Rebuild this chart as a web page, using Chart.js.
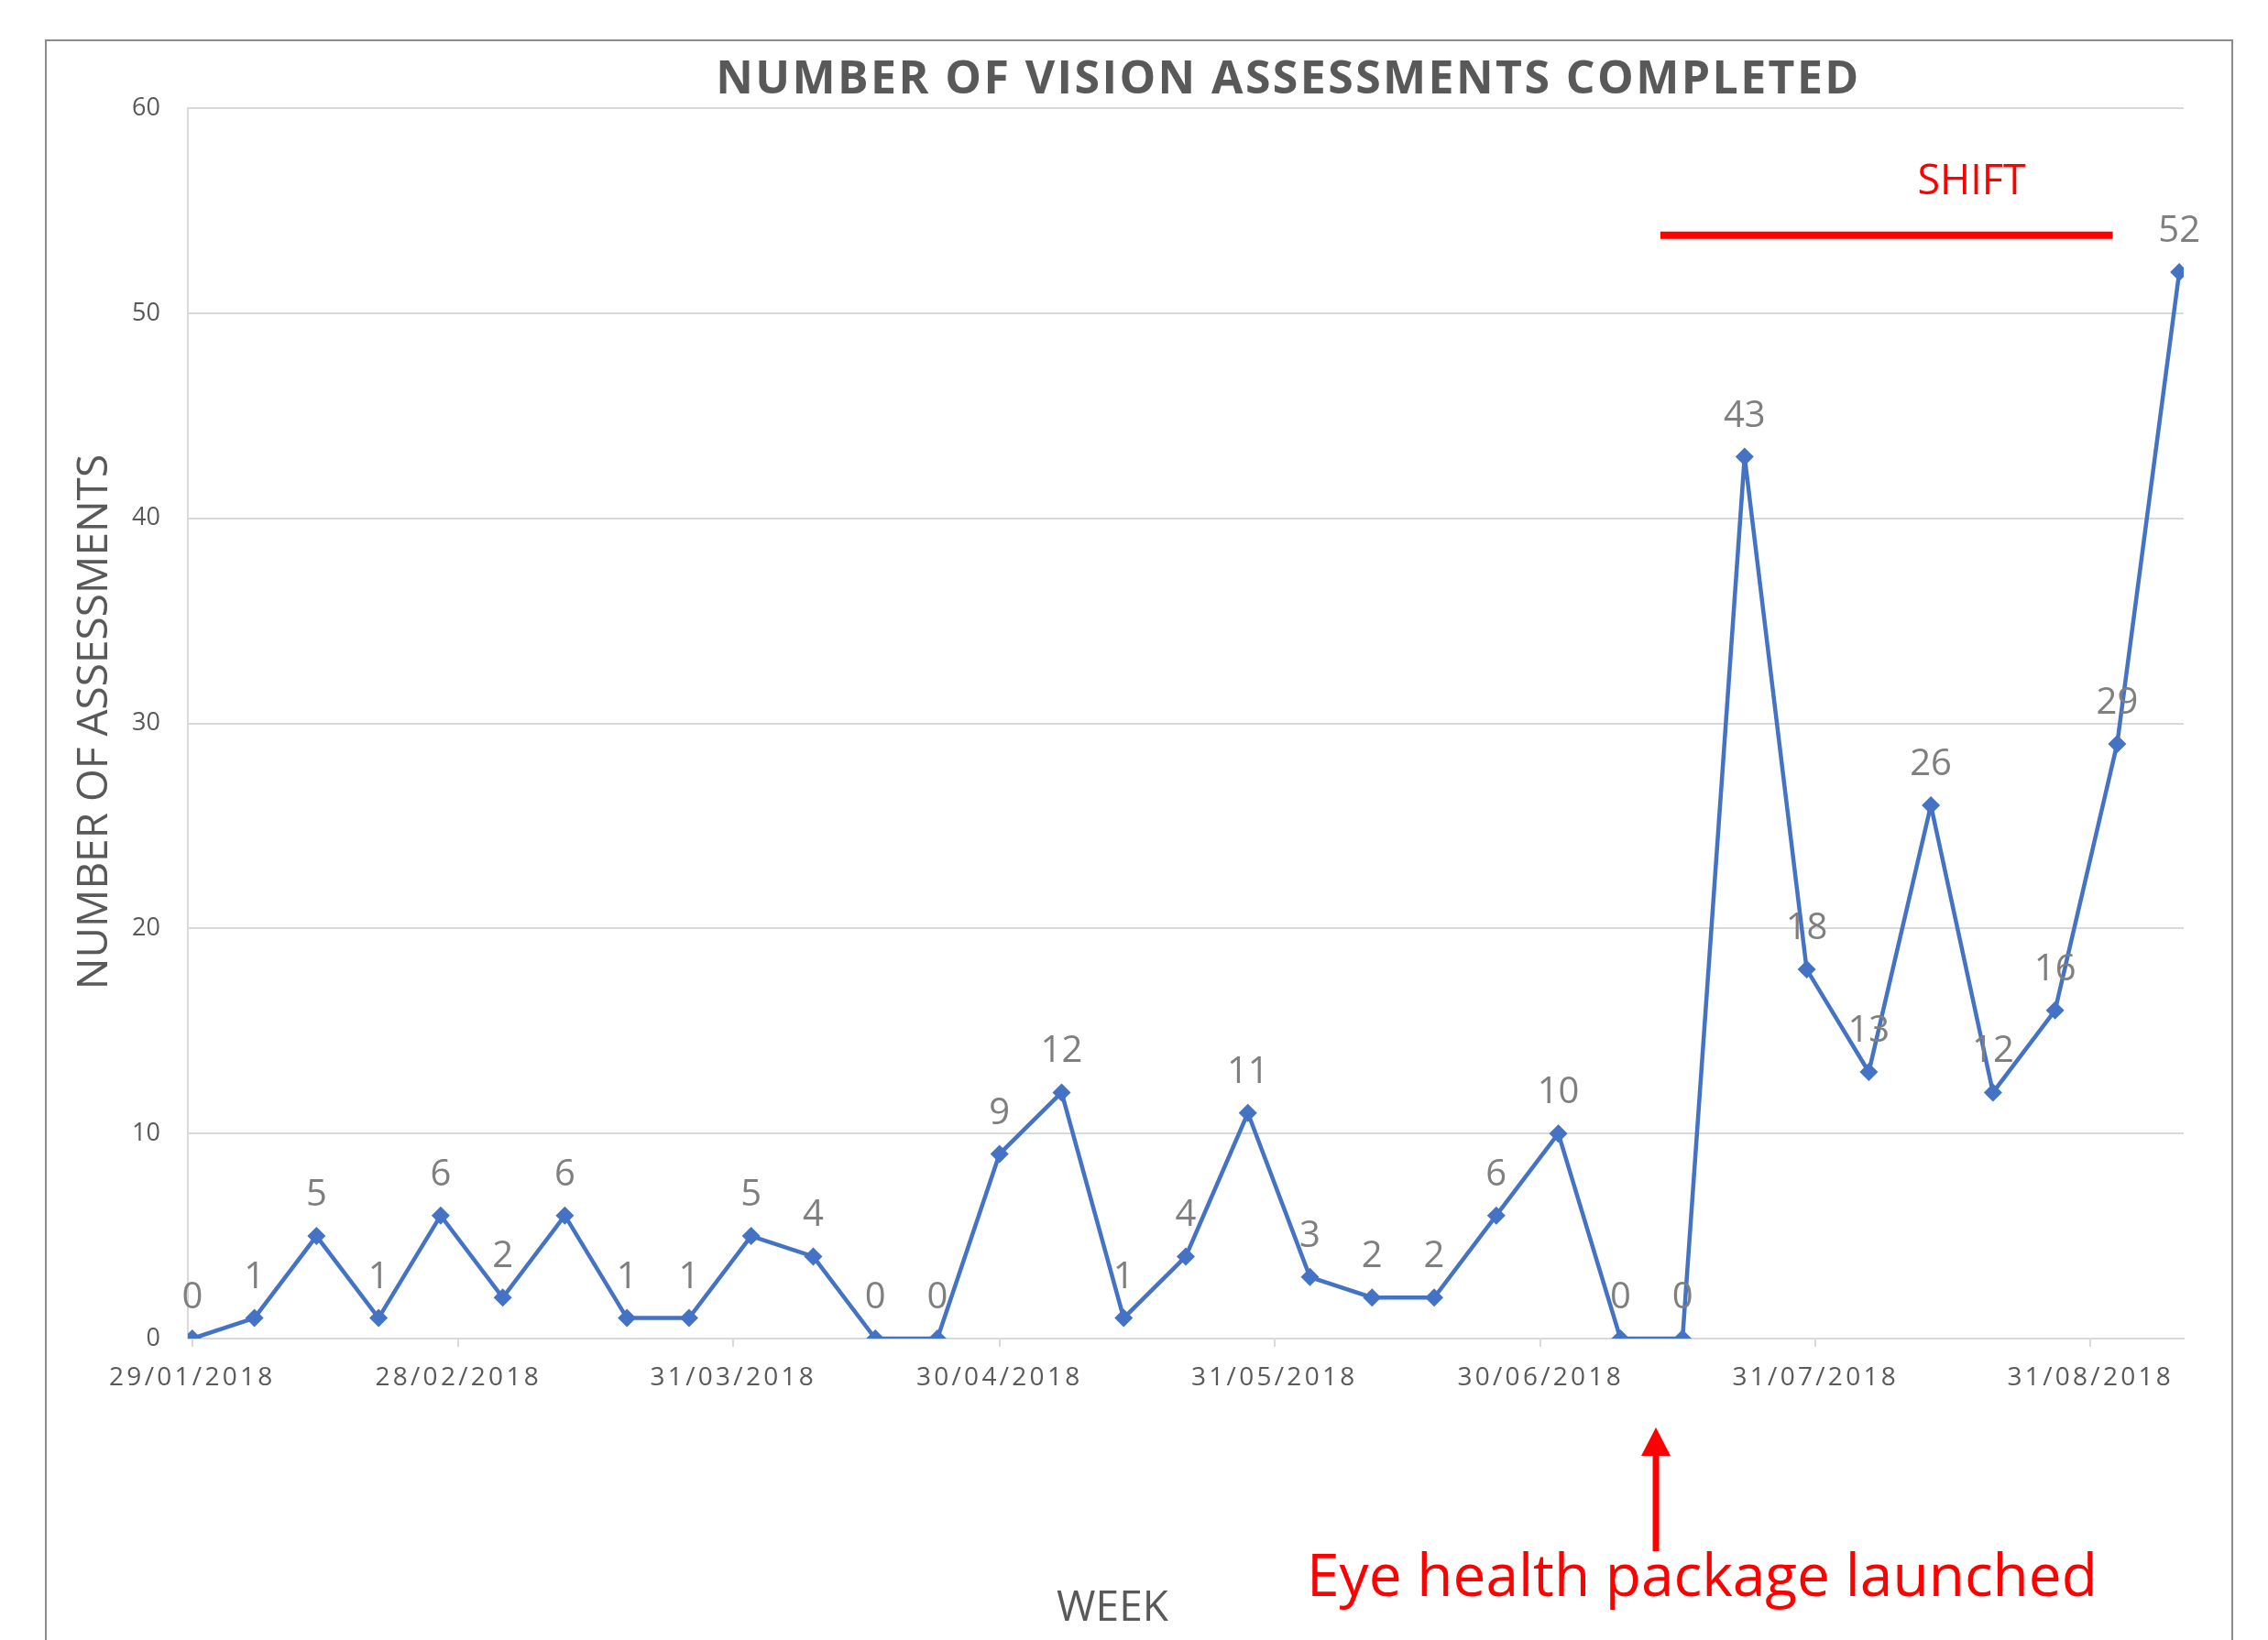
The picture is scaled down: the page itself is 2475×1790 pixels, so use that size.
<!DOCTYPE html>
<html>
<head>
<meta charset="utf-8">
<script src="https://cdn.jsdelivr.net/npm/chart.js@4.4.1/dist/chart.umd.min.js"></script>
<style>
  body { margin: 0; background: #fff; overflow: hidden; }
  #frame { position: absolute; left: 49px; top: 43px; width: 2388px; height: 1800px; border: 2px solid #8c8c8c; box-sizing: border-box; pointer-events: none; }
  #mycanvas { position: absolute; left: 0; top: 0; }
</style>
</head>
<body>
<canvas id="mycanvas" width="2475" height="1790"></canvas>
<div id="frame"></div>
<script>
// weekly counts
var weeks = ['29/01/2018','05/02/2018','12/02/2018','19/02/2018','26/02/2018','05/03/2018','12/03/2018',
  '19/03/2018','26/03/2018','02/04/2018','09/04/2018','16/04/2018','23/04/2018','30/04/2018','07/05/2018',
  '14/05/2018','21/05/2018','28/05/2018','04/06/2018','11/06/2018','18/06/2018','25/06/2018','02/07/2018',
  '09/07/2018','16/07/2018','23/07/2018','30/07/2018','06/08/2018','13/08/2018','20/08/2018','27/08/2018',
  '03/09/2018','10/09/2018'];
var assessments = [0,1,5,1,6,2,6,1,1,5,4,0,0,9,12,1,4,11,3,2,2,6,10,0,0,43,18,13,26,12,16,29,52];
var tickDates = ['29/01/2018','28/02/2018','31/03/2018','30/04/2018','31/05/2018','30/06/2018','31/07/2018','31/08/2018'];
var yTicks = [0,10,20,30,40,50,60];

function toDay(s) {
  var p = s.split('/');
  var start = Date.UTC(2018, 0, 29);
  return Math.round((Date.UTC(+p[2], +p[1] - 1, +p[0]) - start) / 86400000);
}

var points = [];
for (var i in weeks) {
  points.push({x: toDay(weeks[i]), y: assessments[i]});
}
var tickDays = tickDates.map(toDay);

var FONT = '"Open Sans", "Liberation Sans", sans-serif';

// date labels on the x axis are spaced out a little, like the Excel original
var LinearScale = Chart.registry.getScale('linear');
var origDrawLabels = LinearScale.prototype.drawLabels;
LinearScale.prototype.drawLabels = function(area) {
  if (this.axis === 'x') this.ctx.letterSpacing = '3.3px';
  origDrawLabels.call(this, area);
  this.ctx.letterSpacing = '0px';
};

var extras = {
  id: 'extras',
  afterDatasetsDraw: function(chart) {
    var ctx = chart.ctx;
    var xs = chart.scales.x, ys = chart.scales.y;
    var area = chart.chartArea;
    ctx.save();

    // value labels
    ctx.fillStyle = '#7f7f7f';
    ctx.font = '40px ' + FONT;
    ctx.textAlign = 'center';
    ctx.textBaseline = 'alphabetic';
    chart.getDatasetMeta(0).data.forEach(function(pt, k) {
      ctx.fillText(String(assessments[k]), pt.x, pt.y - 33);
    });

    // title
    ctx.fillStyle = '#595959';
    ctx.font = 'bold 50px ' + FONT;
    ctx.letterSpacing = '2.4px';
    ctx.textBaseline = 'middle';
    ctx.fillText('NUMBER OF VISION ASSESSMENTS COMPLETED', 1406, 88);
    ctx.letterSpacing = '0px';

    // axis titles
    ctx.font = '46px ' + FONT;
    ctx.fillText('WEEK', 1214, 1756);
    ctx.save();
    ctx.translate(104, 788);
    ctx.rotate(-Math.PI / 2);
    ctx.fillText('NUMBER OF ASSESSMENTS', 0, 0);
    ctx.restore();

    // shift marker
    ctx.strokeStyle = '#ff0000';
    ctx.lineWidth = 8;
    ctx.beginPath();
    ctx.moveTo(xs.getPixelForValue(165.5), ys.getPixelForValue(53.8));
    ctx.lineTo(xs.getPixelForValue(216.5), ys.getPixelForValue(53.8));
    ctx.stroke();
    ctx.fillStyle = '#ff0000';
    ctx.font = '45px ' + FONT;
    ctx.textBaseline = 'alphabetic';
    ctx.fillText('SHIFT', xs.getPixelForValue(200.6), ys.getPixelForValue(55.8));

    // launch arrow
    var ax = xs.getPixelForValue(165);
    ctx.lineWidth = 7;
    ctx.beginPath();
    ctx.moveTo(ax, area.bottom + 232);
    ctx.lineTo(ax, area.bottom + 120);
    ctx.stroke();
    ctx.beginPath();
    ctx.moveTo(ax, area.bottom + 97);
    ctx.lineTo(ax - 16, area.bottom + 128);
    ctx.lineTo(ax + 16, area.bottom + 128);
    ctx.closePath();
    ctx.fill();
    ctx.font = '64px ' + FONT;
    ctx.textAlign = 'left';
    ctx.fillText('Eye health package launched', 1426, 1742);
    ctx.restore();
  }
};

var chartdata = {
  datasets: [{
    label: 'Assessments',
    data: points,
    borderColor: '#4472c4',
    backgroundColor: '#4472c4',
    borderWidth: 4.5,
    lineTension: 0,
    pointStyle: 'rectRot',
    pointRadius: 10,
    pointHoverRadius: 10,
    pointBorderWidth: 0
  }]
};

var ctx = document.getElementById('mycanvas');
var lineGraph = new Chart(ctx, {
  type: 'line',
  data: chartdata,
  plugins: [extras],
  options: {
    responsive: false,
    animation: false,
    devicePixelRatio: 1,
    layout: { padding: { left: 0, right: 92, top: 118, bottom: 229 } },
    plugins: { legend: { display: false }, tooltip: { enabled: false } },
    scales: {
      x: {
        type: 'linear',
        min: -0.5,
        max: toDay(weeks[weeks.length - 1]) + 0.5,
        afterBuildTicks: function(scale) {
          scale.ticks = tickDays.map(function(v) { return {value: v}; });
        },
        afterFit: function(scale) { scale.height = 100; },
        grid: { drawOnChartArea: false, drawTicks: true, tickLength: 9, color: '#d9d9d9', lineWidth: 2 },
        border: { display: true, color: '#d9d9d9', width: 2 },
        ticks: {
          autoSkip: false,
          maxRotation: 0,
          padding: 17,
          color: '#595959',
          font: { family: FONT, size: 28 },
          callback: function(v) { return tickDates[tickDays.indexOf(v)]; }
        }
      },
      y: {
        min: 0,
        max: 60,
        afterBuildTicks: function(scale) {
          scale.ticks = yTicks.map(function(v) { return {value: v}; });
        },
        afterFit: function(scale) { scale.width = 205; },
        grid: { color: '#d9d9d9', lineWidth: 2, drawTicks: false },
        border: { display: true, color: '#d9d9d9', width: 2 },
        ticks: {
          padding: 30,
          color: '#595959',
          font: { family: FONT, size: 27 }
        }
      }
    }
  }
});
</script>
</body>
</html>
